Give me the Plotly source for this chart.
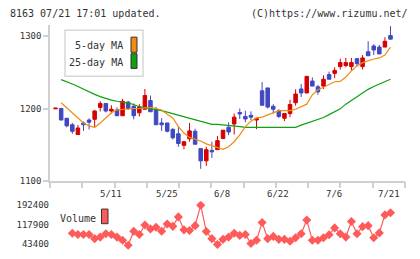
import plotly.graph_objects as go

# ---------------- data ----------------
opens = [1199.5, 1200, 1186.5, 1177.5, 1164, 1180, 1184, 1185, 1201.5, 1207,
         1196.5, 1198, 1190, 1209, 1203, 1194, 1199, 1211, 1199, 1180,
         1180, 1171, 1165, 1149, 1158, 1168.5, 1144.5, 1127.5, 1142, 1143,
         1158.5, 1174, 1178.5, 1194.5, 1189, 1190.5, 1184, 1224.5, 1228.5, 1203,
         1197, 1186.5, 1193, 1208, 1227, 1221.5, 1238, 1230, 1231, 1247,
         1248.6, 1258, 1259.5, 1258, 1269, 1258, 1278.5, 1286.5, 1285, 1285,
         1301]
closes = [1200.5, 1184, 1176, 1168.5, 1173, 1177.5, 1181, 1196.5, 1207, 1196.5,
          1199, 1190, 1210, 1200, 1190, 1202, 1218, 1195.5, 1177.5, 1177.5,
          1168.5, 1159.5, 1151.5, 1154, 1169, 1150.5, 1127.5, 1143, 1140, 1155.5,
          1170, 1167.5, 1188, 1192.5, 1185.5, 1188, 1186.5, 1204.5, 1202, 1199,
          1189, 1193, 1205.5, 1220, 1221.5, 1244.5, 1231, 1223, 1240.5, 1240.5,
          1252.7, 1263.5, 1263.5, 1263.5, 1262, 1270, 1273, 1281, 1275.5, 1293,
          1296]
highs = [1200.5, 1201, 1187, 1180, 1177, 1182, 1186.5, 1198, 1210, 1207,
         1204.5, 1201.5, 1213.5, 1210, 1207, 1206, 1227, 1218, 1202, 1186.5,
         1180, 1173, 1175, 1155, 1180, 1172, 1145, 1147, 1154, 1162,
         1170, 1181, 1193, 1200, 1197, 1196, 1187, 1236.5, 1228.5, 1206,
         1199, 1193, 1212, 1226.5, 1234, 1244.5, 1243, 1232.5, 1246, 1251,
         1257, 1269, 1270, 1270, 1269, 1274, 1293, 1289, 1288, 1298.6,
         1314]
lows = [1199.5, 1184, 1174, 1165, 1164, 1169, 1171, 1174, 1196, 1194.5,
        1193, 1190, 1190, 1198, 1185, 1189, 1199, 1195.5, 1177.5, 1169,
        1167, 1157, 1147, 1143.5, 1154, 1150.5, 1116.5, 1120.5, 1131.5, 1143,
        1158.5, 1163, 1164, 1185.5, 1181, 1184, 1171.5, 1204.5, 1200, 1193,
        1187, 1182.5, 1188, 1204, 1216, 1221.5, 1231, 1219, 1227, 1240.5,
        1242, 1254, 1257, 1253, 1258, 1254, 1273, 1274, 1275.5, 1285,
        1296]
ma5 = [None, 1208, 1201, 1195, 1188, 1180, 1176, 1174, 1180, 1187,
       1194, 1198, 1199, 1200, 1200, 1200, 1201, 1201.5, 1200, 1198,
       1192, 1187, 1175, 1166, 1160, 1158, 1155, 1151, 1148.5, 1146,
       1143.5, 1147, 1154, 1163.5, 1175, 1182.5, 1187, 1188, 1191, 1195,
       1197, 1197, 1197, 1199, 1203, 1206, 1219, 1226, 1229.5, 1233.5,
       1237, 1237.5, 1243.5, 1252, 1259, 1263.5, 1266.5, 1268.5, 1270, 1274,
       1285]
ma25 = [None, 1240, 1237.5, 1234, 1230.5, 1226.5, 1223, 1219.5, 1216.5, 1213.5,
        1211.5, 1210, 1209, 1207.5, 1205.5, 1202.5, 1201, 1200, 1199, 1197,
        1195, 1193, 1190, 1188, 1186, 1184, 1182.5, 1180.5, 1178, 1178,
        1177.5, 1176.5, 1175.5, 1175, 1174, 1174, 1174, 1174, 1174, 1174,
        1174, 1174, 1174, 1174, 1177, 1179.5, 1182, 1184.5, 1187.5, 1191.5,
        1195, 1199.5, 1206, 1211, 1216.5, 1222, 1226.5, 1230.5, 1234, 1237.5,
        1240.5]
volume = [None, None, None, 85500, 80600, 80600, 80600, 64600, 70600, 83200,
          80600, 70600, 58300, 39700, 93000, 80600, 116800, 101900, 108000, 93000,
          120500, 111600, 147700, 98200, 95600, 114200, 192400, 91800, 64600, 42300,
          62000, 70600, 85500, 77000, 80600, 46000, 58300, 126500, 64600, 73200,
          62000, 62000, 54600, 68300, 83200, 135400, 58300, 58300, 68300, 79500,
          105600, 83200, 70600, 130200, 83200, 110400, 114200, 68300, 86700, 155200,
          163700]
date_label_idx = [9, 19, 29, 39, 49, 60]
date_labels = ["5/11", "5/25", "6/8", "6/22", "7/6", "7/21"]
price_ticks = [1100, 1200, 1300]
vol_ticks = [43400, 117900, 192400]
vol_tick_text = ["43400", "117900", "192400"]
header_left = "8163 07/21 17:01 updated."
header_right = "(C)https://www.rizumu.net/"

# ---------------- styling ----------------
W, H = 420, 259
FONT = "DejaVu Sans Mono"
RED = "#d60000"
BLUE = "#4048c0"
ORANGE = "#f08c10"
GREEN = "#10a010"
VOLC = "#ff5a5a"
AXC = "#d0d0d0"
TXT = "#333333"


def px(x):
    return x / W


def py(y):
    return 1 - y / H


idx = list(range(len(opens)))
XR = [-1, 62.6]

fig = go.Figure()
fig.add_trace(go.Candlestick(
    x=idx, open=opens, high=highs, low=lows, close=closes,
    increasing=dict(line=dict(color=RED, width=1), fillcolor=RED),
    decreasing=dict(line=dict(color=BLUE, width=1), fillcolor=BLUE),
    whiskerwidth=0, showlegend=False, hoverinfo="skip",
    xaxis="x", yaxis="y"))
fig.add_trace(go.Scatter(x=idx, y=ma25, mode="lines",
                         line=dict(color=GREEN, width=1.2),
                         showlegend=False, hoverinfo="skip", xaxis="x", yaxis="y"))
fig.add_trace(go.Scatter(x=idx, y=ma5, mode="lines",
                         line=dict(color=ORANGE, width=1.2),
                         showlegend=False, hoverinfo="skip", xaxis="x", yaxis="y"))
fig.add_trace(go.Scatter(x=idx, y=volume, mode="lines+markers",
                         line=dict(color=VOLC, width=1.2),
                         marker=dict(symbol="diamond", size=7, color=VOLC),
                         showlegend=False, hoverinfo="skip", xaxis="x2", yaxis="y2"))

xdom = [px(50), px(405)]
fig.update_layout(
    width=W, height=H,
    margin=dict(l=0, r=0, t=0, b=0),
    paper_bgcolor="white", plot_bgcolor="white",
    font=dict(family=FONT, size=9, color=TXT),
    boxgap=0.1,
    xaxis=dict(domain=xdom, range=XR, anchor="y",
               showline=True, linecolor=AXC, linewidth=1.5,
               ticks="outside", ticklen=6, tickcolor=AXC, tickwidth=1.5,
               tickmode="linear", tick0=XR[0], dtick=(XR[1] - XR[0]) / 11,
               showticklabels=False, showgrid=False, zeroline=False,
               rangeslider=dict(visible=False), fixedrange=True),
    yaxis=dict(domain=[py(184), py(25)], range=[1100, 1315], anchor="x",
               showline=True, linecolor=AXC, linewidth=1.5,
               ticks="outside", ticklen=5, tickcolor=AXC, tickwidth=1.5,
               tickvals=price_ticks, tickfont=dict(size=9, color=TXT),
               showgrid=False, zeroline=False, fixedrange=True),
    xaxis2=dict(domain=xdom, range=XR, anchor="y2", visible=False),
    yaxis2=dict(domain=[py(255), py(205)], range=[21050, 207300], anchor="x2",
                showline=False, ticks="", tickvals=vol_ticks, ticktext=vol_tick_text,
                tickfont=dict(size=9, color=TXT),
                showgrid=False, zeroline=False, fixedrange=True),
)

shapes = []
annotations = []

# header
annotations.append(dict(x=px(8), y=py(12.5), xref="paper", yref="paper",
                        text=header_left, showarrow=False, xanchor="left",
                        yanchor="middle", font=dict(size=10, color=TXT)))
annotations.append(dict(x=px(410), y=py(12.5), xref="paper", yref="paper",
                        text=header_right, showarrow=False, xanchor="right",
                        yanchor="middle", font=dict(size=10, color=TXT)))

# date labels under the price axis
for i, (k, lab) in enumerate(zip(date_label_idx, date_labels)):
    shift = -1 if i == len(date_labels) - 1 else 5
    annotations.append(dict(x=k, y=py(197.5), xref="x", yref="paper", text=lab,
                            showarrow=False, xanchor="center", yanchor="middle",
                            xshift=shift, font=dict(size=9, color=TXT)))

# MA legend box
shapes.append(dict(type="rect", xref="paper", yref="paper",
                   x0=px(65), x1=px(143), y0=py(77), y1=py(30),
                   line=dict(color="#d8d8d8", width=1.5), fillcolor="white", layer="above"))
shapes.append(dict(type="rect", xref="paper", yref="paper",
                   x0=px(131), x1=px(137), y0=py(52.5), y1=py(37),
                   line=dict(color="#333333", width=1), fillcolor=ORANGE, layer="above"))
shapes.append(dict(type="rect", xref="paper", yref="paper",
                   x0=px(131), x1=px(137), y0=py(69), y1=py(54),
                   line=dict(color="#333333", width=1), fillcolor=GREEN, layer="above"))
annotations.append(dict(x=px(125), y=py(46), xref="paper", yref="paper",
                        text="5-day MA", showarrow=False, xanchor="right",
                        yanchor="middle", font=dict(size=10, color=TXT)))
annotations.append(dict(x=px(125), y=py(62.5), xref="paper", yref="paper",
                        text="25-day MA", showarrow=False, xanchor="right",
                        yanchor="middle", font=dict(size=10, color=TXT)))

# Volume legend
annotations.append(dict(x=px(58), y=py(222.5), xref="paper", yref="paper",
                        text="Volume", showarrow=False, xanchor="left",
                        yanchor="middle", font=dict(size=10, color=TXT)))
shapes.append(dict(type="rect", xref="paper", yref="paper",
                   x0=px(101.5), x1=px(108), y0=py(228), y1=py(213),
                   line=dict(color="#333333", width=1), fillcolor=VOLC, layer="above"))

fig.update_layout(shapes=shapes, annotations=annotations)
fig.write_html("out.html")
